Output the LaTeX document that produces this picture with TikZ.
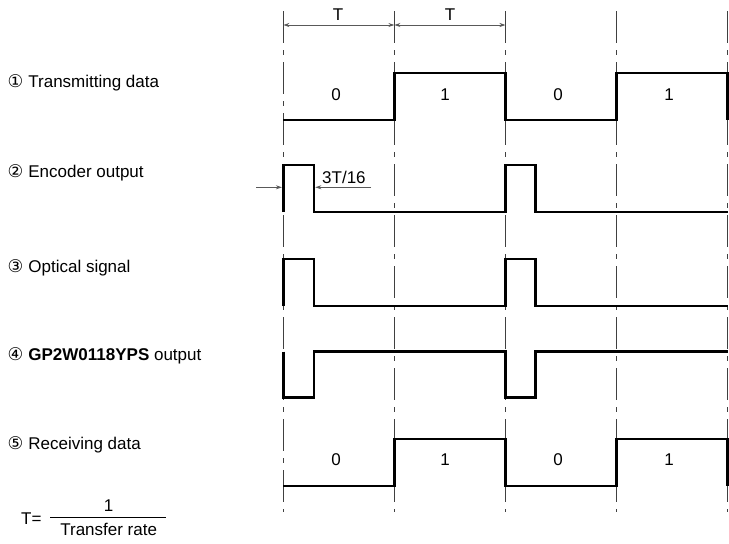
\documentclass[tikz,border=0pt]{standalone}
\usepackage{fontspec}
\setmainfont{Liberation Sans}
\newfontfamily\circfont{DejaVu Sans}
\usetikzlibrary{arrows.meta}
\newcommand{\cnum}[1]{{\circfont\fontsize{17.5}{20}\selectfont #1}\hspace{5pt}}
\begin{document}
\begin{tikzpicture}[x=1pt,y=-1pt,
  every node/.style={inner sep=0pt, font=\fontsize{17}{20}\selectfont},
  wave/.style={line width=2.6pt, line join=miter},
  gridline/.style={draw=black!75, line width=0.9pt, dash pattern=on 32pt off 7pt on 5pt off 7pt},
  dim/.style={draw=black!65, line width=1pt},
  dimarr/.style={dim, {Stealth[length=6pt,width=4pt]}-{Stealth[length=6pt,width=4pt]}},
  dimone/.style={dim, -{Stealth[length=6pt,width=4pt]}},
  lbl/.style={anchor=base west},
  bit/.style={anchor=base}]
\useasboundingbox (0,0) rectangle (729,544);
% grid lines
\foreach \i/\x in {0/283.3,1/394.4,2/505.5,3/616.6,4/727.7}{
  \coordinate (gt\i) at (\x,11);
  \coordinate (gb\i) at (\x,512);
  \draw[gridline] (gt\i) -- (gb\i);
}
% T dimensions
\coordinate (d0) at (283.3,25);
\coordinate (d1) at (394.4,25);
\coordinate (d2) at (505.5,25);
\draw[dimarr] (d0) -- (d1);
\draw[dimarr] (d1) -- (d2);
\node[bit] (tA) at (338,20) {T};
\node[bit] (tB) at (450,20) {T};
% labels
\node[lbl] (l1) at (7.5,87.5) {\cnum{①}Transmitting data};
\node[lbl] (l2) at (7.5,177) {\cnum{②}Encoder output};
\node[lbl] (l3) at (7.5,272) {\cnum{③}Optical signal};
\node[lbl] (l4) at (7.5,360) {\cnum{④}\textbf{GP2W0118YPS} output};
\node[lbl] (l5) at (7.5,449) {\cnum{⑤}Receiving data};
% row 1
\draw[wave] (283.3,120) -- (394.4,120) -- (394.4,73) -- (505.5,73) -- (505.5,120) -- (616.6,120) -- (616.6,73) -- (727.7,73) -- (727.7,120);
\node[bit] (b11) at (336,100) {0};
\node[bit] (b12) at (445,100) {1};
\node[bit] (b13) at (558,100) {0};
\node[bit] (b14) at (669,100) {1};
% row 2
\draw[wave] (283.3,212) -- (283.3,165) -- (314,165) -- (314,212) -- (505.5,212) -- (505.5,165) -- (535.5,165) -- (535.5,212) -- (727.7,212);
\coordinate (e0) at (256,187.3);
\coordinate (e1) at (281.9,187.3);
\coordinate (e2) at (315.3,187.3);
\coordinate (e3) at (371,187.3);
\draw[dimone] (e0) -- (e1);
\draw[dimone] (e3) -- (e2);
\node[lbl] (w) at (322,183.3) {3T/16};
% row 3
\draw[wave] (283.3,306) -- (283.3,259) -- (314,259) -- (314,306) -- (505.5,306) -- (505.5,259) -- (535.5,259) -- (535.5,306) -- (727.7,306);
% row 4
\draw[wave] (283.3,351.5) -- (283.3,397.5) -- (314,397.5) -- (314,351.5) -- (505.5,351.5) -- (505.5,397.5) -- (535.5,397.5) -- (535.5,351.5) -- (727.7,351.5);
% row 5
\draw[wave] (283.3,486) -- (394.4,486) -- (394.4,439) -- (505.5,439) -- (505.5,486) -- (616.6,486) -- (616.6,439) -- (727.7,439) -- (727.7,486);
\node[bit] (b51) at (336,465) {0};
\node[bit] (b52) at (445,465) {1};
\node[bit] (b53) at (558,465) {0};
\node[bit] (b54) at (669,465) {1};
% formula
\node[lbl] (teq) at (21,524) {T=};
\coordinate (f0) at (50,517.3);
\coordinate (f1) at (165.7,517.3);
\draw[line width=1pt] (f0) -- (f1);
\node[bit] (one) at (108.5,511.7) {1};
\node[bit] (tr) at (108.7,535) {Transfer rate};
\end{tikzpicture}
\end{document}
